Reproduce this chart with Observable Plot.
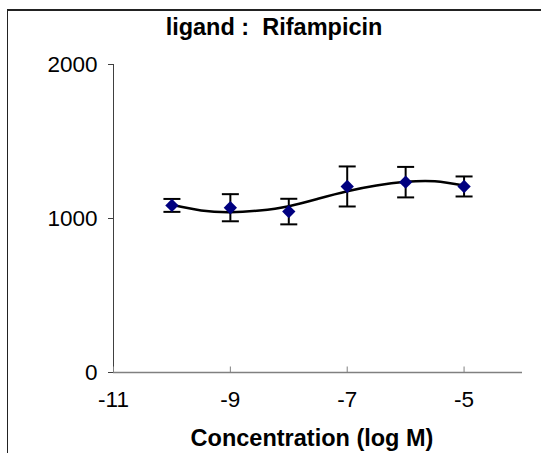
<!DOCTYPE html>
<html>
<head>
<meta charset="utf-8">
<script src="https://cdn.jsdelivr.net/npm/d3@7"></script>
<script src="https://cdn.jsdelivr.net/npm/@observablehq/plot@0.6"></script>
<style>
  body { margin: 0; background: #fff; }
  #c { position: relative; width: 541px; height: 453px; overflow: hidden; }
  #border { position: absolute; left: 7px; top: 9px; width: 700px; height: 700px;
            border-left: 1.5px solid #222; border-top: 2px solid #222; pointer-events: none; }
  svg text { white-space: pre; }
</style>
</head>
<body>
<div id="c"><div id="border"></div></div>
<script>
// ---- data ----
const xVals = [-10, -9, -8, -7, -6, -5];
const means = [1085, 1070, 1045, 1208, 1236, 1208];
const errs  = [42, 88, 83, 130, 99, 65];
const curveX = [-10, -9.5, -9, -8.5, -8, -7.5, -7, -6.5, -6, -5.5, -5];
const curveY = [1089, 1052, 1041, 1052, 1080, 1128, 1177, 1214, 1238, 1242, 1214];
const xTicks = [-11, -9, -7, -5];
const yTicks = [0, 1000, 2000];
const titleText = "ligand :  Rifampicin";
const xLabelText = "Concentration (log M)";

const pts = xVals.map((x, i) => ({x, mean: means[i], lo: means[i] - errs[i], hi: means[i] + errs[i]}));
const curve = curveX.map((x, i) => ({x, y: curveY[i]}));

const hline = {draw(ctx, size) { const r = Math.sqrt(size / Math.PI); ctx.moveTo(-r, 0); ctx.lineTo(r, 0); }};
const vline = {draw(ctx, size) { const r = Math.sqrt(size / Math.PI); ctx.moveTo(0, -r); ctx.lineTo(0, r); }};

const chart = Plot.plot({
  width: 541, height: 453,
  marginLeft: 113, marginRight: 19, marginTop: 64, marginBottom: 81,
  style: {fontFamily: "Liberation Sans, Arial, sans-serif", fontSize: "22px", color: "black", background: "transparent", overflow: "visible"},
  x: {domain: [-11, -4]},
  y: {domain: [0, 2000]},
  marks: [
    Plot.ruleY([0], {stroke: "#808080", strokeWidth: 1.5}),
    Plot.ruleX([-11], {stroke: "#404040", strokeWidth: 1}),
    Plot.axisY({ticks: yTicks, tickSize: 5, tickPadding: 11, tickFormat: d => String(d), label: null, fontSize: 22.5, stroke: "#404040"}),
    Plot.axisX({ticks: xTicks, tickSize: 0, tickPadding: 19, tickFormat: d => String(d), label: null, fontSize: 22.5}),
    Plot.dot(xTicks, {x: d => d, frameAnchor: "bottom", symbol: vline, r: 3, dy: -3, stroke: "#808080", strokeWidth: 1}),
    Plot.line(curve, {x: "x", y: "y", curve: "natural", stroke: "black", strokeWidth: 2.5}),
    Plot.ruleX(pts, {x: "x", y1: "lo", y2: "hi", stroke: "black", strokeWidth: 2}),
    Plot.dot(pts, {x: "x", y: "hi", symbol: hline, r: 8.5, stroke: "black", strokeWidth: 2}),
    Plot.dot(pts, {x: "x", y: "lo", symbol: hline, r: 8.5, stroke: "black", strokeWidth: 2}),
    Plot.dot(pts, {x: "x", y: "mean", symbol: "diamond2", r: 6, fill: "#000080", stroke: "none"}),
    Plot.text([titleText], {text: d => d, frameAnchor: "top", dx: -44, dy: -46, fontWeight: "bold", fontSize: 23.5}),
    Plot.text([xLabelText], {text: d => d, frameAnchor: "bottom", dx: -6, dy: 73, fontWeight: "bold", fontSize: 23.5})
  ]
});
document.getElementById("c").insertBefore(chart, document.getElementById("border"));
</script>
</body>
</html>
